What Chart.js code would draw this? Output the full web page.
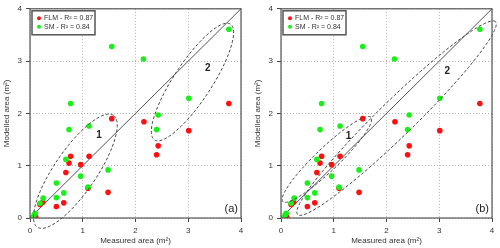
<!DOCTYPE html>
<html>
<head>
<meta charset="utf-8">
<script src="https://cdn.jsdelivr.net/npm/chart.js@4.4.0/dist/chart.umd.min.js"></script>
<style>
  html, body { margin: 0; padding: 0; background: #fff; }
  .panel { position: absolute; top: 0; width: 250px; height: 248px; }
</style>
</head>
<body>
<div class="panel" style="left:0"><canvas id="chartA" width="250" height="248"></canvas></div>
<div class="panel" style="left:250px"><canvas id="chartB" width="250" height="248"></canvas></div>
<script>
// measured vs modelled area (m²)
const flmMeasured = [0.08, 0.11, 0.19, 0.24, 0.50, 0.64, 0.68, 0.74, 0.77, 0.96, 1.10, 1.12, 1.48, 1.55, 2.16, 2.40, 2.43, 3.01, 3.77];
const flmModelled = [0.03, 0.02, 0.26, 0.30, 0.22, 0.29, 0.87, 1.05, 1.18, 1.02, 0.57, 1.18, 0.49, 1.90, 1.84, 1.21, 1.38, 1.67, 2.19];
const smMeasured = [0.02, 0.08, 0.10, 0.19, 0.25, 0.50, 0.50, 0.64, 0.68, 0.74, 0.77, 0.96, 1.10, 1.12, 1.48, 1.55, 2.15, 2.40, 2.43, 3.01, 3.77];
const smModelled = [0.00, 0.06, 0.09, 0.28, 0.38, 0.39, 0.67, 0.48, 1.12, 1.69, 2.19, 0.80, 0.59, 1.76, 0.92, 3.28, 3.04, 1.69, 1.97, 2.29, 3.61];
const axisTicks = [0, 1, 2, 3, 4];
const legendLabels = ['FLM - R\u00b2 = 0.87', 'SM - R\u00b2 = 0.84'];
const panelLabels = ['(a)', '(b)'];

// dashed groups: centre x, centre y, half length, half width, angle (deg), in data units
const groupsA = [[0.86, 0.895, 1.29, 0.40, 56], [3.08, 2.60, 1.32, 0.36, 57]];
const groupsB = [[0.87, 1.12, 1.16, 0.22, 44], [2.19, 1.91, 2.63, 0.34, 44.5]];
const groupNamesA = [[1.31, 1.58, '1'], [3.37, 2.87, '2']];
const groupNamesB = [[1.28, 1.56, '1'], [3.15, 2.81, '2']];

const RED = '#ff1010';
const GREEN = '#18f018';
const FONT = "'Liberation Sans', Arial, sans-serif";

const toPoints = (xs, ys) => xs.map((x, i) => ({ x: x, y: ys[i] }));

const extras = {
  id: 'extras',
  afterDraw(chart, args, opts) {
    const { ctx, chartArea: a, scales: { x, y } } = chart;
    ctx.save();

    // dashed groups
    ctx.strokeStyle = '#444';
    ctx.lineWidth = 1;
    ctx.setLineDash([3, 2]);
    opts.groups.forEach(g => {
      const th = g[4] * Math.PI / 180;
      ctx.beginPath();
      for (let k = 0; k <= 120; k++) {
        const t = k / 120 * Math.PI * 2;
        const dx = g[2] * Math.cos(t), dy = g[3] * Math.sin(t);
        const px = x.getPixelForValue(g[0] + dx * Math.cos(th) - dy * Math.sin(th));
        const py = y.getPixelForValue(g[1] + dx * Math.sin(th) + dy * Math.cos(th));
        if (k === 0) ctx.moveTo(px, py); else ctx.lineTo(px, py);
      }
      ctx.stroke();
    });
    ctx.setLineDash([]);

    ctx.fillStyle = '#222';
    ctx.font = 'bold 10px ' + FONT;
    ctx.textAlign = 'center';
    ctx.textBaseline = 'middle';
    opts.names.forEach(n => {
      ctx.fillText(n[2], x.getPixelForValue(n[0]), y.getPixelForValue(n[1]));
    });

    // frame
    ctx.strokeStyle = '#555';
    ctx.lineWidth = 1.2;
    ctx.strokeRect(a.left, a.top, a.right - a.left, a.bottom - a.top);

    // legend box
    const bx = a.left + 2, by = a.top + 2, bw = 63, bh = 24;
    ctx.fillStyle = '#fff';
    ctx.fillRect(bx, by, bw, bh);
    ctx.strokeStyle = '#555';
    ctx.lineWidth = 1.5;
    ctx.strokeRect(bx, by, bw, bh);
    ctx.font = '7px ' + FONT;
    ctx.textAlign = 'left';
    [RED, GREEN].forEach((c, i) => {
      const ry = by + 7.5 + i * 8.5;
      ctx.fillStyle = c;
      ctx.beginPath();
      ctx.arc(bx + 7, ry, 2, 0, Math.PI * 2);
      ctx.fill();
      ctx.fillStyle = '#333';
      ctx.fillText(legendLabels[i], bx + 12, ry);
    });

    // panel label
    ctx.fillStyle = '#222';
    ctx.font = '11px ' + FONT;
    ctx.textAlign = 'right';
    ctx.fillText(opts.label, a.right - 3, a.bottom - 9);
    ctx.restore();
  }
};

function axis(title, size) {
  return {
    type: 'linear',
    min: 0,
    max: 4,
    afterBuildTicks: s => { s.ticks = axisTicks.map(v => ({ value: v })); },
    afterFit: s => { if (s.isHorizontal()) s.height = size; else s.width = size; },
    ticks: { color: '#333', font: { family: FONT, size: 8 }, padding: 4 },
    grid: { color: '#b4b4b4', lineWidth: 1, tickColor: '#444', tickLength: 4, tickBorderDash: [] },
    border: { display: false, dash: [1, 2] },
    title: { display: true, text: title, color: '#333', font: { family: FONT, size: 8 }, padding: { top: 2, bottom: 2 } }
  };
}

function makeChart(id, groups, names, label, padLeft, padRight) {
  return new Chart(document.getElementById(id), {
    type: 'scatter',
    data: {
      datasets: [
        { label: legendLabels[1], data: toPoints(smMeasured, smModelled), backgroundColor: GREEN, borderWidth: 0, pointRadius: 2.8 },
        { label: legendLabels[0], data: toPoints(flmMeasured, flmModelled), backgroundColor: RED, borderWidth: 0, pointRadius: 2.8 },
        { type: 'line', data: [{ x: 0, y: 0 }, { x: 4, y: 4 }], borderColor: '#555', borderWidth: 1, pointRadius: 0 }
      ]
    },
    options: {
      responsive: false,
      animation: false,
      layout: { padding: { top: 7, right: padRight, left: padLeft, bottom: 0 } },
      scales: {
        x: axis('Measured area (m\u00b2)', 30),
        y: axis('Modelled area (m\u00b2)', 30)
      },
      plugins: {
        legend: { display: false },
        tooltip: { enabled: false },
        extras: { groups: groups, names: names, label: label }
      }
    },
    plugins: [extras]
  });
}

makeChart('chartA', groupsA, groupNamesA, panelLabels[0], 0, 9);
makeChart('chartB', groupsB, groupNamesB, panelLabels[1], 1, 8);
</script>
</body>
</html>
